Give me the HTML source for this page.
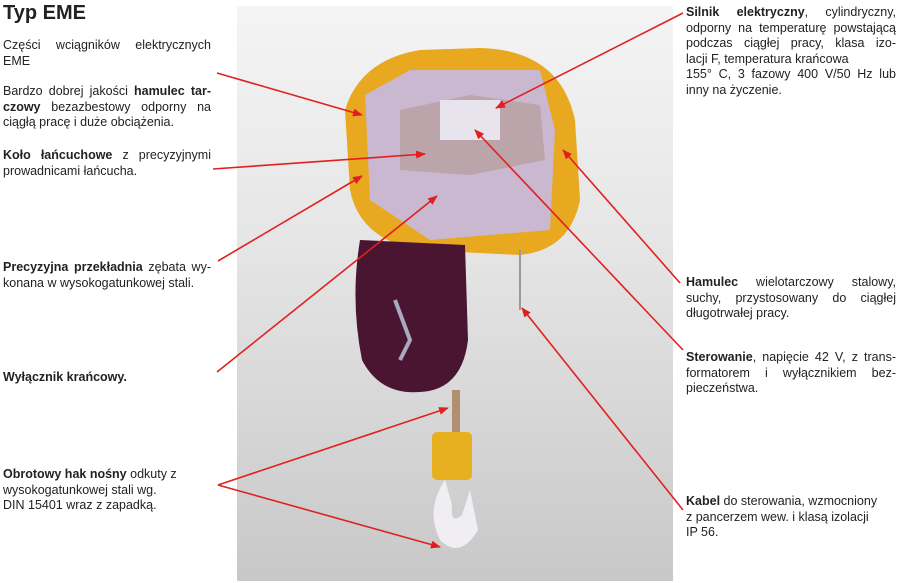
<!DOCTYPE html>
<html><head><meta charset="utf-8"><style>
body{margin:0;width:900px;height:583px;background:#fff;position:relative;overflow:hidden;font-family:"Liberation Sans",sans-serif;color:#222}
.t{position:absolute;font-size:12.5px;line-height:15.5px}
.t div{white-space:nowrap}
.j{text-align:justify;text-align-last:justify}
b{font-weight:bold}
</style></head><body>
<div style="position:absolute;left:237px;top:6px;width:436px;height:575px;background:linear-gradient(#f4f4f4,#e6e6e6 40%,#c8c8c8)"></div>
<div style="position:absolute;left:3px;top:2px;font-size:20px;font-weight:bold">Typ EME</div>
<div class="t" style="left:3px;top:38px;width:208px"><div class="j">Części wciągników elektrycznych</div><div>EME</div></div>
<div class="t" style="left:3px;top:84px;width:208px"><div class="j">Bardzo dobrej jakości <b>hamulec tar-</b></div><div class="j"><b>czowy</b> bezazbestowy odporny na</div><div>ciągłą pracę i duże obciążenia.</div></div>
<div class="t" style="left:3px;top:148px;width:208px"><div class="j"><b>Koło łańcuchowe</b> z precyzyjnymi</div><div>prowadnicami łańcucha.</div></div>
<div class="t" style="left:3px;top:260px;width:208px"><div class="j"><b>Precyzyjna przekładnia</b> zębata wy-</div><div>konana w wysokogatunkowej stali.</div></div>
<div class="t" style="left:3px;top:370px;width:208px"><b>Wyłącznik krańcowy.</b></div>
<div class="t" style="left:3px;top:467px;width:208px"><div><b>Obrotowy hak nośny</b> odkuty z</div><div>wysokogatunkowej stali wg.</div><div>DIN 15401 wraz z zapadką.</div></div>
<div class="t" style="left:686px;top:5px;width:210px"><div class="j"><b>Silnik elektryczny</b>, cylindryczny,</div><div class="j">odporny na temperaturę powstającą</div><div class="j">podczas ciągłej pracy, klasa izo-</div><div>lacji F, temperatura krańcowa</div><div class="j">155° C, 3 fazowy 400 V/50 Hz lub</div><div>inny na życzenie.</div></div>
<div class="t" style="left:686px;top:275px;width:210px"><div class="j"><b>Hamulec</b> wielotarczowy stalowy,</div><div class="j">suchy, przystosowany do ciągłej</div><div>długotrwałej pracy.</div></div>
<div class="t" style="left:686px;top:350px;width:210px"><div class="j"><b>Sterowanie</b>, napięcie 42 V, z trans-</div><div class="j">formatorem i wyłącznikiem bez-</div><div>pieczeństwa.</div></div>
<div class="t" style="left:686px;top:494px;width:210px"><div><b>Kabel</b> do sterowania, wzmocniony</div><div>z pancerzem wew. i klasą izolacji</div><div>IP 56.</div></div>
<svg style="position:absolute;left:0;top:0" width="900" height="583">
<defs><marker id="a" markerWidth="10" markerHeight="8" refX="9" refY="4" orient="auto" markerUnits="userSpaceOnUse"><path d="M0,0L10,4L0,8z" fill="#e02020"/></marker></defs>
<path d="M345,110 Q360,60 420,50 L480,48 Q560,50 575,120 L580,200 Q570,250 520,255 L420,250 Q360,240 350,190 Z" fill="#e8a820"/>
<path d="M365,95 L410,70 L540,70 L555,130 L550,230 L430,240 L370,200 Z" fill="#c9b8d0"/>
<path d="M400,110 L470,95 L540,105 L545,160 L470,175 L400,170 Z" fill="#b8a0a0" opacity=".8"/>
<rect x="440" y="100" width="60" height="40" fill="#e8e4ee"/>
<path d="M360,240 Q350,300 362,360 Q380,395 420,392 Q462,390 468,340 L465,245 Z" fill="#4a1530"/>
<path d="M395,300 L410,340 L400,360" stroke="#a9a9c0" stroke-width="4" fill="none"/>
<line x1="520" y1="250" x2="520" y2="310" stroke="#999" stroke-width="2"/>
<rect x="452" y="390" width="8" height="45" fill="#b09070"/>
<rect x="432" y="432" width="40" height="48" rx="5" fill="#e6b020"/>
<path d="M445,480 Q425,510 440,540 Q460,560 478,530 L470,490 L462,515 Q450,525 452,505 Z" fill="#f0eef2"/>
<g stroke="#e02020" stroke-width="1.6" marker-end="url(#a)">
<line x1="217" y1="73" x2="362" y2="115"/>
<line x1="213" y1="169" x2="425" y2="154"/>
<line x1="218" y1="261" x2="362" y2="176"/>
<line x1="217" y1="372" x2="437" y2="196"/>
<line x1="218" y1="485" x2="448" y2="408"/>
<line x1="218" y1="485" x2="440" y2="547"/>
<line x1="683" y1="13" x2="496" y2="108"/>
<line x1="680" y1="283" x2="563" y2="150"/>
<line x1="683" y1="350" x2="475" y2="130"/>
<line x1="683" y1="510" x2="522" y2="308"/>
</g>
</svg>
</body></html>
